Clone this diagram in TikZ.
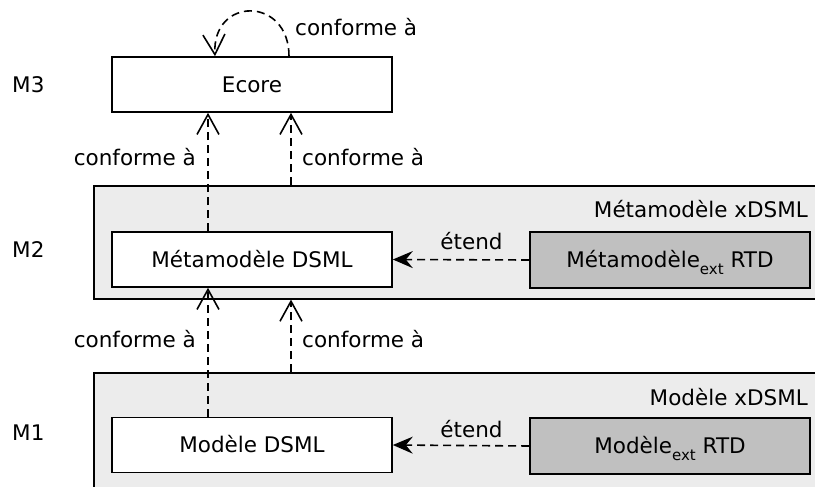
\documentclass[tikz,border=0pt]{standalone}
\usepackage{fontspec}
\setmainfont{DejaVu Sans}
\usetikzlibrary{arrows.meta}
\definecolor{grpfill}{HTML}{ECECEC}
\definecolor{extfill}{HTML}{C0C0C0}
\newcommand{\extsub}{\raisebox{-7pt}{\fontsize{15}{15}\selectfont ext}}
\begin{document}
\begin{tikzpicture}[x=1pt,y=-1pt,
  every node/.style={font=\fontsize{21.5}{26}\selectfont},
  lbl/.style={inner sep=0pt},
  box/.style={draw=black,line width=1.6pt,fill=white,minimum width=280pt,minimum height=55pt,inner sep=0pt,text height=15.5pt,text depth=0pt},
  extbox/.style={box,fill=extfill,minimum height=56pt},
  grp/.style={draw=black,line width=1.6pt,fill=grpfill,inner sep=0pt,anchor=north west,minimum width=760pt},
  conf/.style={dashed,dash pattern=on 8pt off 5pt,line width=1.6pt,-{Straight Barb[length=20pt,width=22pt]}},
  ext/.style={dashed,dash pattern=on 8pt off 5pt,line width=1.6pt,-{Stealth[length=20pt,width=17pt,inset=7pt]}}]
\clip (0,0) rectangle (815,487);
% levels
\node[lbl,anchor=base west] (M3) at (12,93) {M3};
\node[lbl,anchor=base west] (M2) at (12,257) {M2};
\node[lbl,anchor=base west] (M1) at (12,440) {M1};
% groups
\node[grp,minimum height=113pt] (g2) at (93,185) {};
\node[grp,minimum height=140pt] (g1) at (93,372) {};
\node[lbl,anchor=base east] (g2l) at (808,217) {Métamodèle xDSML};
\node[lbl,anchor=base east] (g1l) at (808,405) {Modèle xDSML};
% boxes
\node[box] (ecore) at (252,84.5) {Ecore};
\node[box] (mm) at (252,259.5) {Métamodèle DSML};
\node[extbox] (mmext) at (670,260) {Métamodèle\extsub\ RTD};
\node[box] (m) at (252,445) {Modèle DSML};
\node[extbox] (mext) at (670,446) {Modèle\extsub\ RTD};
% helper columns
\coordinate (l3) at ([xshift=-44pt]ecore.south);
\coordinate (r3) at ([xshift=39pt]ecore.south);
% self loop
\draw[conf] ([xshift=37pt]ecore.north) .. controls +(0,-60) and +(-3,-60) .. ([xshift=-37pt]ecore.north);
\node[lbl,anchor=base west] (lc) at (295,36) {conforme à};
% M2 -> M3
\draw[conf] (l3 |- mm.north) -- (l3);
\draw[conf] (r3 |- g2.north) -- (r3);
\node[lbl,anchor=base east] (c1) at (196,165) {conforme à};
\node[lbl,anchor=base west] (c2) at (302,165) {conforme à};
% M1 -> M2
\draw[conf] (l3 |- m.north) -- (l3 |- mm.south);
\draw[conf] (r3 |- g1.north) -- (r3 |- g2.south);
\node[lbl,anchor=base east] (c3) at (196,347) {conforme à};
\node[lbl,anchor=base west] (c4) at (302,347) {conforme à};
% extends
\draw[ext] (mmext.west) -- (mm.east);
\draw[ext] (mext.west) -- (m.east);
\node[lbl,anchor=base] (e1) at (471.5,249) {étend};
\node[lbl,anchor=base] (e2) at (471.5,437) {étend};
\end{tikzpicture}
\end{document}
